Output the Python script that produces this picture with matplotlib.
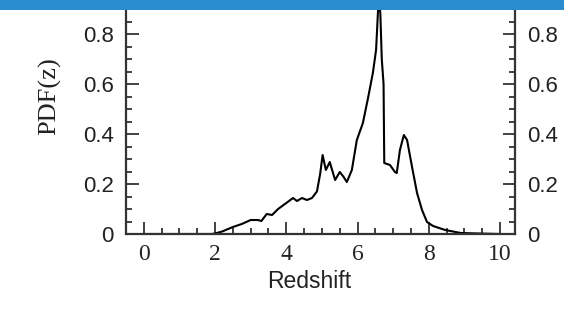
import numpy as np
import matplotlib
matplotlib.use("Agg")
import matplotlib.pyplot as plt
from matplotlib.patches import Rectangle
from matplotlib.ticker import MultipleLocator

# photometric redshift probability distribution
z = [0.0, 1.9, 2.0, 2.2, 2.5, 2.75, 3.0, 3.2, 3.3, 3.45, 3.6, 3.77, 4.0, 4.19,
     4.3, 4.44, 4.58, 4.72, 4.86, 4.95, 5.02, 5.11, 5.22, 5.37, 5.5, 5.6, 5.7,
     5.84, 5.98, 6.15, 6.3, 6.43, 6.52, 6.57, 6.6, 6.64, 6.68, 6.73, 6.75, 6.91,
     7.05, 7.1, 7.19, 7.3, 7.39, 7.53, 7.67, 7.81, 7.95, 8.12, 8.46, 8.9, 9.4, 10.0]
pdf = [0.0, 0.0, 0.002, 0.01, 0.028, 0.04, 0.056, 0.056, 0.052, 0.08, 0.076, 0.1,
       0.124, 0.144, 0.132, 0.144, 0.136, 0.144, 0.17, 0.24, 0.316, 0.256, 0.288,
       0.216, 0.248, 0.23, 0.208, 0.256, 0.376, 0.444, 0.548, 0.644, 0.736, 0.88,
       0.96, 0.88, 0.7, 0.6, 0.284, 0.276, 0.248, 0.244, 0.336, 0.396, 0.376,
       0.268, 0.164, 0.096, 0.048, 0.032, 0.016, 0.004, 0.002, 0.0]
xticks = [0, 2, 4, 6, 8, 10]
yticks = [0, 0.2, 0.4, 0.6, 0.8]
ylabels = ["0", "0.2", "0.4", "0.6", "0.8"]

W, H = 564, 324
fig = plt.figure(figsize=(W / 100, H / 100), dpi=100)
fig.patch.set_facecolor("white")

# axes box in pixels: x 126..515, y(from top) -16..234
ax = fig.add_axes([126 / W, (H - 234) / H, 389 / W, 250 / H])
ax.plot(z, pdf, color="black", lw=1.5)
ax.set_xlim(-0.5, 10.42)
ax.set_ylim(0, 1.0)

ax.set_xticks(xticks)
ax.set_yticks(yticks)
ax.set_yticklabels(ylabels)
ax.xaxis.set_minor_locator(MultipleLocator(0.5))
ax.yaxis.set_minor_locator(MultipleLocator(0.05))

txt = "#222222"
ax.tick_params(which="both", direction="in", top=True, right=True,
               labelright=True, width=1.3, color="#333333")
ax.tick_params(which="major", length=9)
ax.tick_params(which="minor", length=4.5)
ax.tick_params(axis="y", labelsize=16, pad=9, labelcolor=txt,
               labelfontfamily="Liberation Sans")
ax.tick_params(axis="x", labelsize=17, pad=7, labelcolor=txt,
               labelfontfamily="Liberation Serif")
for s in ax.spines.values():
    s.set_linewidth(1.6)
    s.set_color("#333333")

fig.text(309 / W, 1 - 282 / H, "Redshift", fontsize=16.5, color=txt,
         family="Liberation Sans", ha="center", va="center")
fig.text(50 / W, 1 - 96 / H, "PDF(z)", fontsize=19, color=txt,
         family="Liberation Serif", rotation=90, ha="center", va="center")

# blue header strip
fig.patches.append(Rectangle((0, 1 - 10 / H), 1, 10 / H, transform=fig.transFigure,
                             facecolor="#2a8dcd", edgecolor="none", zorder=10))

fig.savefig("out.png", dpi=100)
